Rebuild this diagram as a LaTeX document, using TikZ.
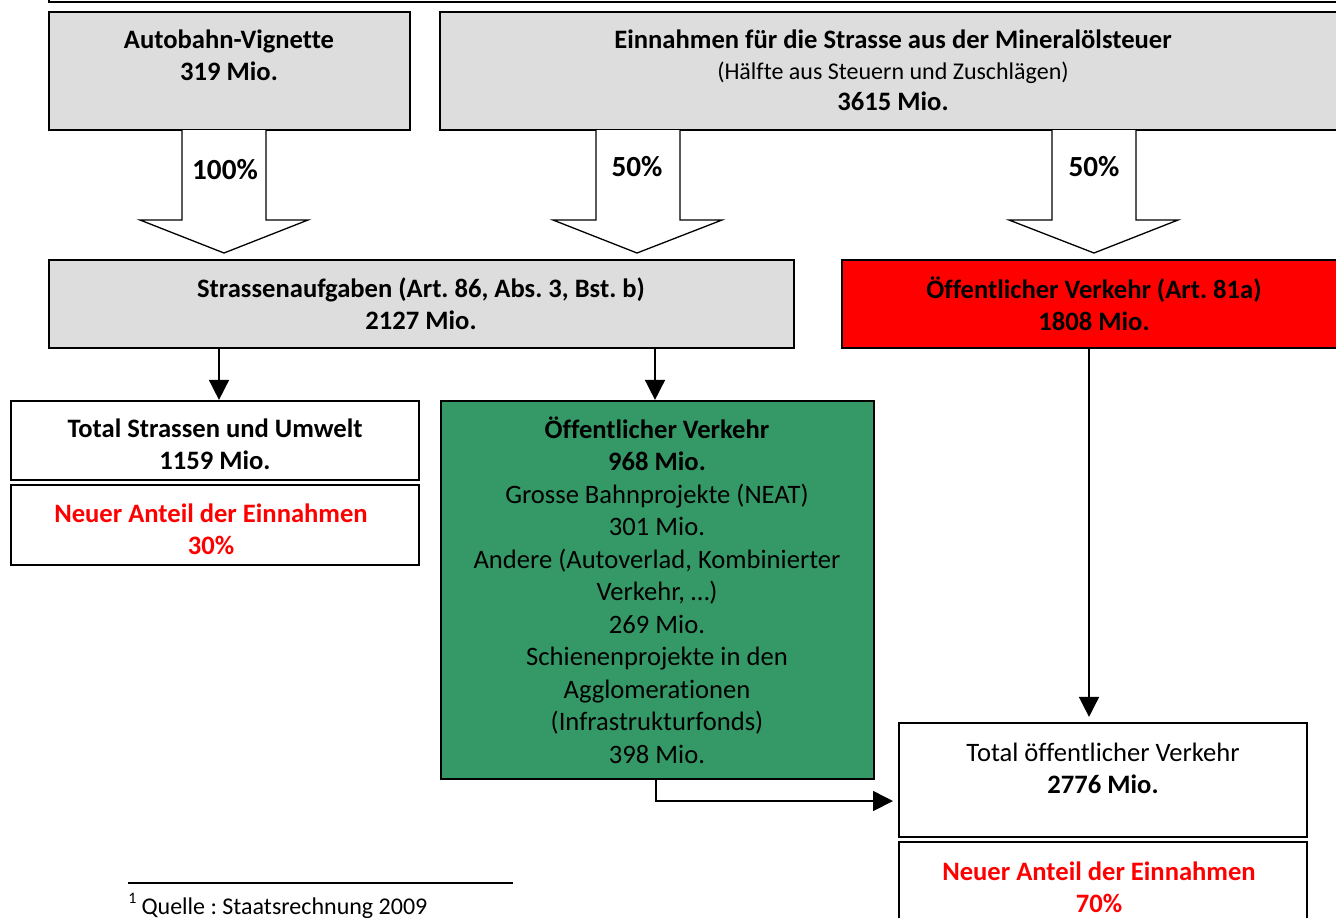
\documentclass[tikz,border=0pt]{standalone}
\usepackage{fontspec}
\setmainfont[Ligatures={NoCommon}]{Carlito}
\usetikzlibrary{arrows.meta,fit}
\definecolor{boxgray}{RGB}{221,221,221}
\definecolor{boxgreen}{RGB}{52,153,102}
\definecolor{txtred}{RGB}{255,0,0}
\frenchspacing
\begin{document}
\begin{tikzpicture}[x=0.5pt,y=-0.5pt,
  box/.style={draw=black, line width=1.1pt, inner sep=0pt},
  txt/.style={align=center, inner sep=0pt, font=\fontsize{13.3}{16}\selectfont},
  btxt/.style={align=center, inner sep=0pt, font=\fontsize{13.3}{16}\selectfont\bfseries},
  pct/.style={align=center, inner sep=0pt, font=\fontsize{14.6}{17}\selectfont\bfseries},
  blockarrow/.style={draw=black, line width=0.65pt, fill=white, line join=miter},
  conn/.style={draw=black, line width=0.8pt, -{Triangle[length=10pt,width=10pt]}}]
\useasboundingbox (0,0) rectangle (1336,917);

% top cut-off box
\node[box, fit={(49,-30) (1420,2)}] (topbox) {};

% first row
\node[box, fill=boxgray, fit={(49,12) (410,130)}] (vig) {};
\node[btxt] (vigT) at (229,55) {Autobahn-Vignette\\319 Mio.};
\node[box, fill=boxgray, fit={(440,12) (1420,130)}] (ein) {};
\node[txt, font=\fontsize{13.3}{15.5}\selectfont] (einT) at (893,70)
  {{\bfseries Einnahmen für die Strasse aus der Mineralölsteuer}\\
   {\fontsize{12}{14}\selectfont (Hälfte aus Steuern und Zuschlägen)}\\
   {\bfseries 3615 Mio.}};

% block arrows
\draw[blockarrow] (182,130) -- (182,220) -- (140,220) -- (224,253) -- (308,220) -- (266,220) -- (266,130);
\draw[blockarrow] (596,130) -- (596,220) -- (553,220) -- (637,253) -- (722,220) -- (680,220) -- (680,130);
\draw[blockarrow] (1052,130) -- (1052,220) -- (1009,220) -- (1094,253) -- (1178,220) -- (1136,220) -- (1136,130);
\node[pct] (p100) at (225,170) {100\%};
\node[pct] (p50a) at (637,167) {50\%};
\node[pct] (p50b) at (1094,167) {50\%};

% second row
\node[box, fill=boxgray, fit={(49,260) (794,348)}] (str) {};
\node[btxt] (strT) at (421,304) {Strassenaufgaben (Art. 86, Abs. 3, Bst. b)\\2127 Mio.};
\node[box, fill=txtred, fit={(842,260) (1420,348)}] (red) {};
\node[btxt] (redT) at (1094,304) {Öffentlicher Verkehr (Art. 81a)\\1808 Mio.};

% third row
\node[box, fill=white, fit={(11,401) (419,480)}] (tsu) {};
\node[btxt] (tsuT) at (215,444) {Total Strassen und Umwelt\\1159 Mio.};
\node[box, fill=white, fit={(11,485) (419,565)}] (n30) {};
\node[btxt, text=txtred] (n30T) at (211,529) {Neuer Anteil der Einnahmen\\30\%};

\node[box, fill=boxgreen, fit={(441,401) (874,779)}] (grn) {};
\node[txt, font=\fontsize{13.3}{16.25}\selectfont] (grnT) at (657,590)
  {{\bfseries Öffentlicher Verkehr}\\
   {\bfseries 968 Mio.}\\
   Grosse Bahnprojekte (NEAT)\\
   301 Mio.\\
   Andere (Autoverlad, Kombinierter\\
   Verkehr, …)\\
   269 Mio.\\
   Schienenprojekte in den\\
   Agglomerationen\\
   (Infrastrukturfonds)\\
   398 Mio.};

\node[box, fill=white, fit={(899,723) (1307,837)}] (toev) {};
\node[txt] (toevT) at (1103,768) {Total öffentlicher Verkehr\\{\bfseries 2776 Mio.}};
\node[box, fill=white, fit={(899,842) (1307,970)}] (n70) {};
\node[btxt, text=txtred] (n70T) at (1099,887) {Neuer Anteil der Einnahmen\\70\%};

% connectors
\draw[conn] (str.south -| 219,0) -- (tsu.north -| 219,0);
\draw[conn] (str.south -| 655,0) -- (grn.north -| 655,0);
\draw[conn, shorten >=2.5pt] (red.south -| 1089,0) -- (toev.north -| 1089,0);
\coordinate (elb) at (893,801);
\draw[conn] (grn.south -| 656,0) |- (elb);

% footnote
\draw[line width=0.7pt] (128,883) -- (513,883);
\node[anchor=base west, inner sep=0pt, font=\fontsize{12}{14}\selectfont] (fn) at (128,914)
  {\raisebox{0.45em}{\fontsize{8}{9}\selectfont 1}\hspace{2.5pt}Quelle : Staatsrechnung 2009};
\end{tikzpicture}
\end{document}
